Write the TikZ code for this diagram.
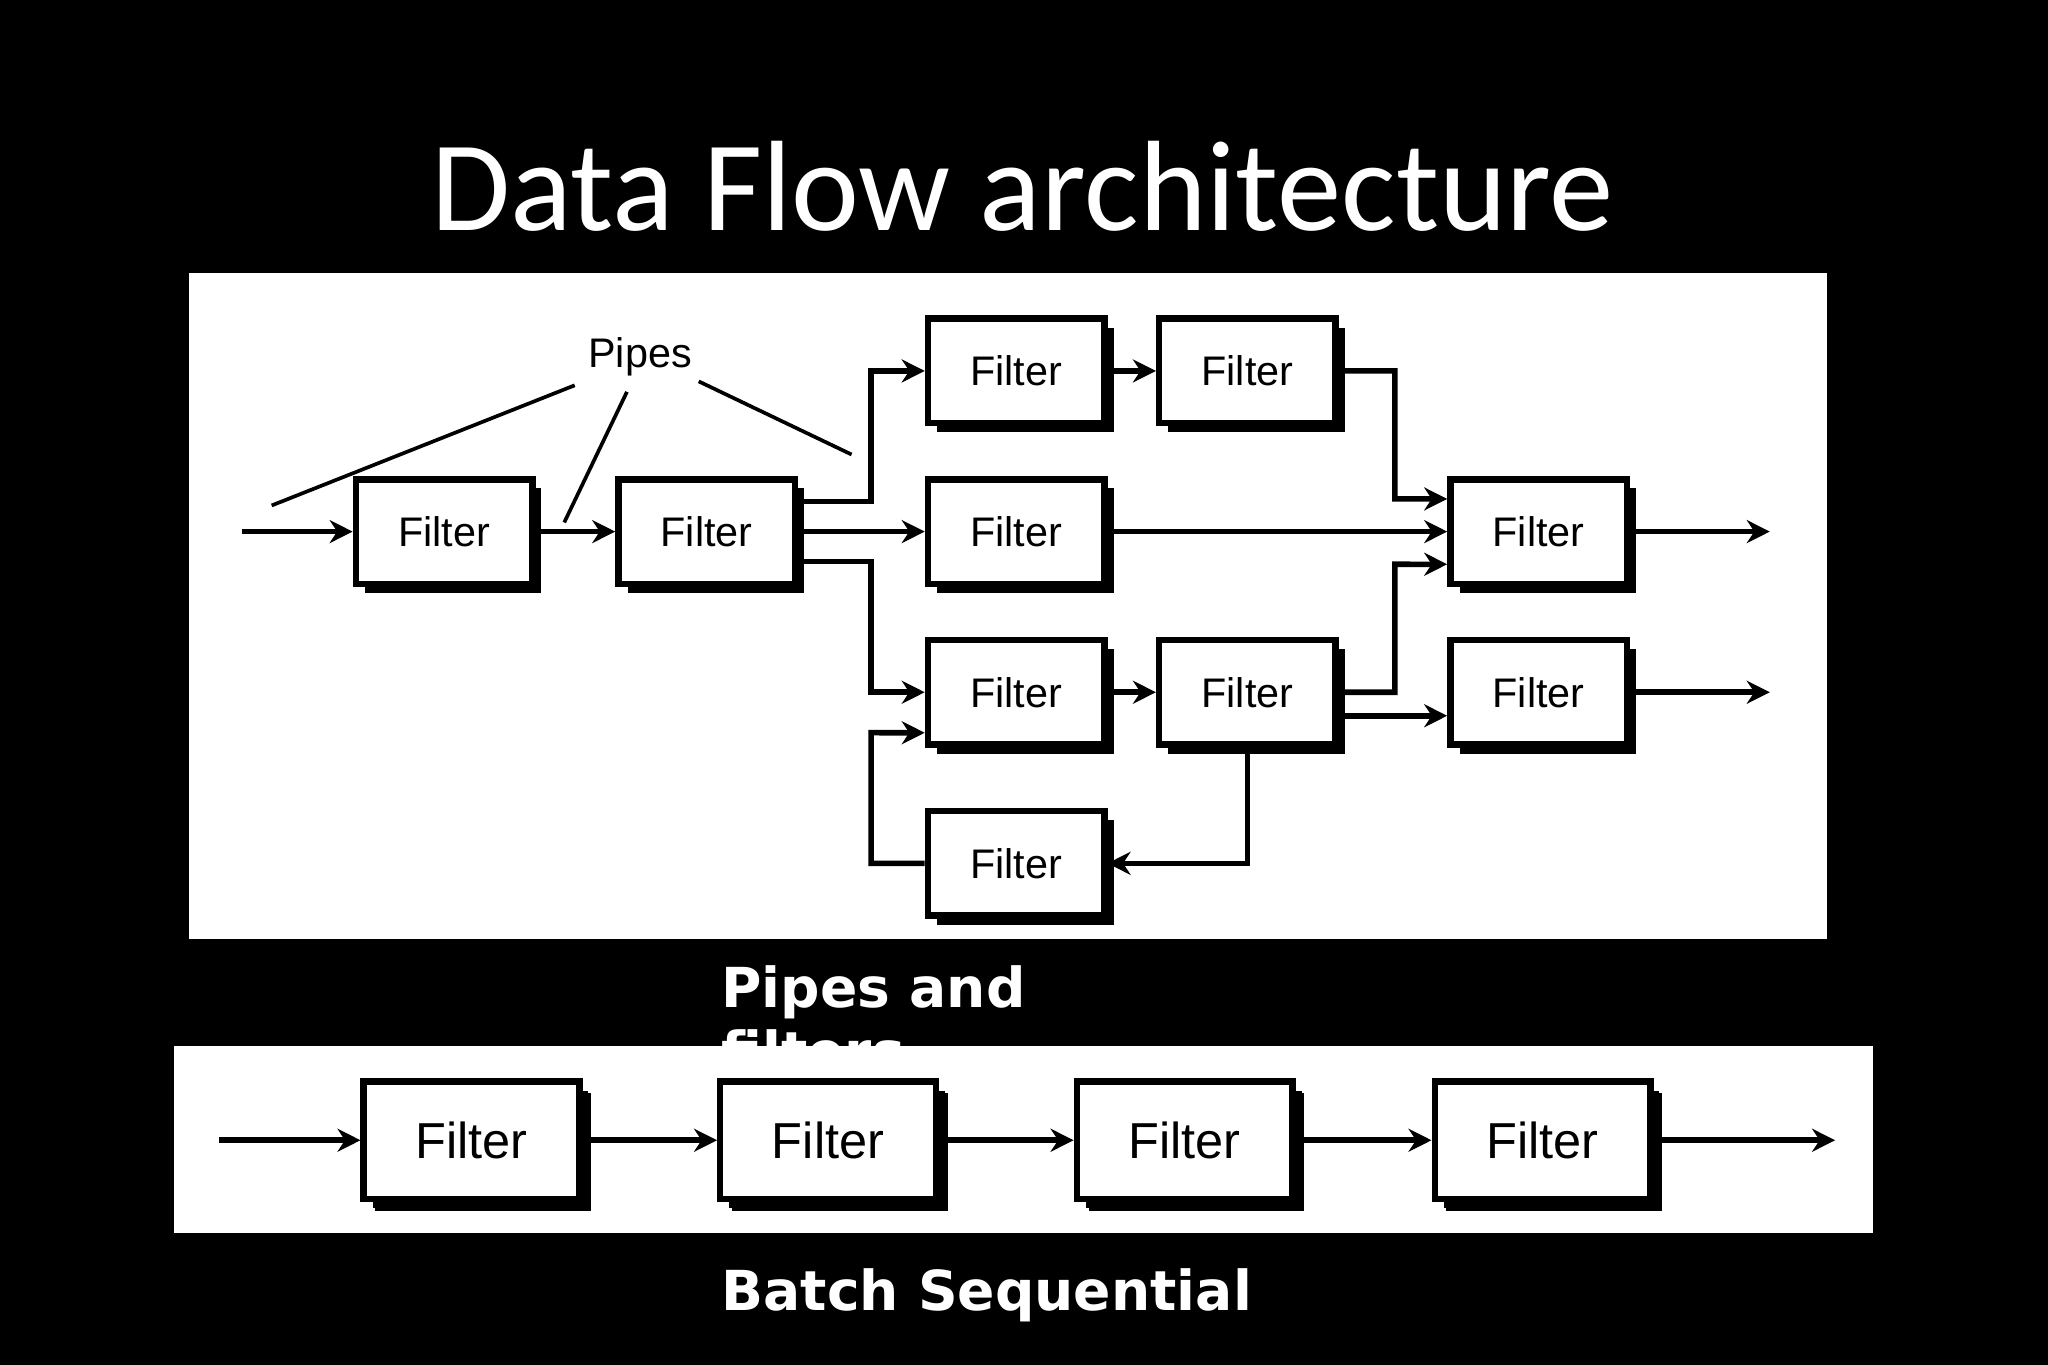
\documentclass[tikz,border=0pt]{standalone}
\usepackage{fontspec}
\setmainfont{Liberation Sans}
\newfontfamily\titlefont{Carlito}
\newfontfamily\boldfont{DejaVu Sans}
\usetikzlibrary{arrows.meta,shadows}
\begin{document}
\begin{tikzpicture}[x=0.01cm,y=-0.01cm,
  filt/.style={draw=black,line width=1.4pt,fill=white,minimum width=1.35cm,minimum height=0.8cm,font=\fontsize{9}{10}\selectfont,
    drop shadow={shadow xshift=0.07cm,shadow yshift=-0.07cm,fill=black,opacity=1}},
  bfilt/.style={filt,minimum width=1.65cm,minimum height=0.9cm,font=\fontsize{11}{12}\selectfont,
    drop shadow={shadow xshift=0.09cm,shadow yshift=-0.09cm,fill=black,opacity=1}},
  pipe/.style={line width=1.2pt,-{Stealth[length=5pt,width=5pt]}},
  lbl/.style={text=white,font=\boldfont\bfseries\fontsize{12}{14}\selectfont,anchor=west}]
\fill[black] (0,0) rectangle (1568,1045);
\useasboundingbox (0,0) rectangle (1568,1045);
\node[text=white,font=\titlefont\fontsize{28}{30}\selectfont] (title) at (783,143) {Data Flow architecture};
\fill[white] (145,209) rectangle (1399,719);
\node[lbl,align=left] (pf) at (540,780) {Pipes and\\filters};
\fill[white] (133,801) rectangle (1434,944);
\node[lbl] (bs) at (540,992) {Batch Sequential};
% top panel
\node[filt] (f1) at (340,407) {Filter};
\node[filt] (f2) at (541,407) {Filter};
\node[filt] (t1) at (778,284) {Filter};
\node[filt] (t2) at (955,284) {Filter};
\node[filt] (m1) at (778,407) {Filter};
\node[filt] (r1) at (1178,407) {Filter};
\node[filt] (b1) at (778,530) {Filter};
\node[filt] (b2) at (955,530) {Filter};
\node[filt] (b3) at (1178,530) {Filter};
\node[filt] (l1) at (778,661) {Filter};
\coordinate (in1) at (185,407);
\coordinate (o1) at (1355,407);
\coordinate (o2) at (1355,530);
\draw[pipe] (in1) -- (f1);
\draw[pipe] (f1) -- (f2);
\draw[pipe] ([yshift=0.23cm]f2.east) -| (667,284) -- (t1.west);
\draw[pipe] (f2) -- (m1);
\draw[pipe] ([yshift=-0.23cm]f2.east) -| (667,530) -- (b1.west);
\draw[pipe] (t1) -- (t2);
\draw[pipe] (t2.east) -| (1068,382) -- ([yshift=0.25cm]r1.west);
\draw[pipe] (m1) -- (r1);
\draw[pipe] (b2.east) -| (1068,432) -- ([yshift=-0.25cm]r1.west);
\draw[pipe] (b1) -- (b2);
\draw[pipe] ([yshift=-0.18cm]b2.east) -- ([yshift=-0.18cm]b3.west);
\draw[pipe] (b2.south) |- (l1.east);
\draw[pipe] (l1.west) -| (667,561) -- ([yshift=-0.31cm]b1.west);
\draw[pipe] (r1) -- (o1);
\draw[pipe] (b3) -- (o2);
\node[font=\fontsize{9}{10}\selectfont] (pipes) at (490,273) {Pipes};
\draw[line width=0.8pt] (440,295) -- (208,387);
\draw[line width=0.8pt] (480,300) -- (432,400);
\draw[line width=0.8pt] (535,292) -- (652,348);
% bottom panel
\node[bfilt] (s1) at (361,873) {Filter};
\node[bfilt] (s2) at (634,873) {Filter};
\node[bfilt] (s3) at (907,873) {Filter};
\node[bfilt] (s4) at (1181,873) {Filter};
\coordinate (sin) at (168,873);
\coordinate (sout) at (1405,873);
\draw[pipe] (sin) -- (s1);
\draw[pipe] (s1) -- (s2);
\draw[pipe] (s2) -- (s3);
\draw[pipe] (s3) -- (s4);
\draw[pipe] (s4) -- (sout);
\end{tikzpicture}
\end{document}
